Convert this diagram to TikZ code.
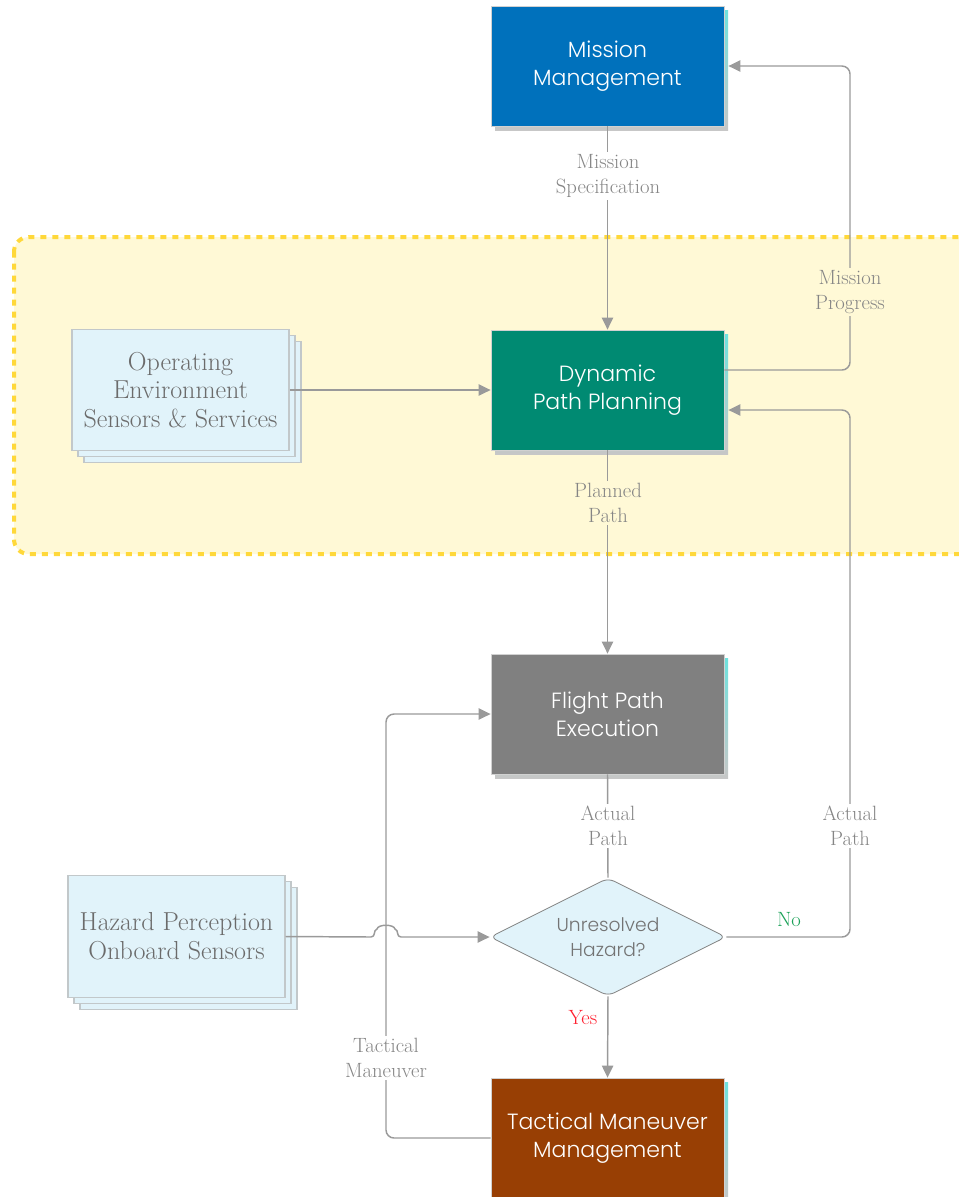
\documentclass[tikz,border=0pt]{standalone}
\usepackage{fontspec}
\IfFontExistsTF{Poppins Light}{\setsansfont{Poppins Light}}{\setsansfont{Poppins}}
\usetikzlibrary{arrows.meta,shapes.geometric,shadows,calc}

\definecolor{mmblue}{HTML}{0071BC}
\definecolor{dppgreen}{HTML}{008A72}
\definecolor{fpegray}{HTML}{808080}
\definecolor{tmmbrown}{HTML}{983F04}
\definecolor{docfill}{HTML}{E1F3FA}
\definecolor{docline}{HTML}{C2C8CA}
\definecolor{zonefill}{HTML}{FFF9D6}
\definecolor{zoneline}{HTML}{FFD83A}
\definecolor{connline}{HTML}{9A9A9A}
\definecolor{labeltext}{HTML}{858585}
\definecolor{shadowcyan}{HTML}{6EE2DE}
\definecolor{yesred}{HTML}{FF1F2F}
\definecolor{nogreen}{HTML}{1BA158}

\tikzset{
  procbox/.style={rectangle, draw=black!18, line width=0.6pt,
    minimum width=174.75pt, minimum height=90pt, inner sep=0pt,
    text=white, align=center,
    font=\sffamily\fontsize{16.5}{21}\selectfont,
    general shadow={top color=shadowcyan, bottom color=black!22,
      shadow xshift=3pt, shadow yshift=-3pt}},
  docstack/.style={rectangle, fill=docfill, draw=docline, line width=0.8pt,
    minimum width=162.75pt, minimum height=91pt, inner sep=0pt,
    align=center, text=black!58,
    font=\fontsize{19.5}{21.5}\selectfont,
    double copy shadow={shadow xshift=4.5pt, shadow yshift=-4.5pt}},
  decision/.style={diamond, aspect=2, fill=docfill, draw=black!50,
    line width=0.6pt, rounded corners=5pt, inner sep=0pt,
    minimum width=177pt, minimum height=88.5pt,
    align=center, text=black!55,
    font=\sffamily\fontsize{14}{18.5}\selectfont},
  conn/.style={draw=connline, line width=1.1pt, rounded corners=6pt},
  arr/.style={-{Triangle[length=9pt,width=8.5pt]}},
  flowlabel/.style={text=labeltext, align=center, inner sep=2pt,
    font=\fontsize{15.5}{18.5}\selectfont},
  answer/.style={inner sep=1pt, font=\fontsize{15.5}{18}\selectfont},
}

\begin{document}
\begin{tikzpicture}[x=0.75pt, y=-0.75pt]
\useasboundingbox (0,0) rectangle (958,1197);

% planning zone
\draw[fill=zonefill, draw=zoneline, line width=3pt,
  dash pattern=on 4.5pt off 4.5pt, rounded corners=11pt]
  (14,237) rectangle (990,554);

% process boxes
\node[procbox, fill=mmblue]   (mm)  at (607.5,66)   {Mission\\Management};
\node[procbox, fill=dppgreen] (dpp) at (607.5,390)  {Dynamic\\Path Planning};
\node[procbox, fill=fpegray]  (fpe) at (607.5,714)  {Flight Path\\Execution};
\node[procbox, fill=tmmbrown] (tmm) at (607.5,1138) {Tactical Maneuver\\Management};

% decision
\node[decision] (dia) at (608,937) {Unresolved\\Hazard?};

% sensor stacks
\node[docstack] (oe) at (180.5,390) {Operating\\Environment\\Sensors \& Services};
\node[docstack] (hz) at (176.5,936.5) {Hazard Perception\\Onboard Sensors};

% guide columns and ports for the return loops
\coordinate (rx) at (850,0);
\coordinate (lx) at (386,0);
\coordinate (dppout) at ([yshift=15pt]dpp.east);
\coordinate (dppin)  at ([xshift=3pt,yshift=-15pt]dpp.east);
\coordinate (mmin)   at ([xshift=3pt]mm.east);

% main flow
\draw[conn, arr] (mm.south) -- (dpp.north);
\draw[conn, arr] (dpp.south) -- (fpe.north);
\draw[conn] (fpe.south) -- (dia.north);
\draw[conn, arr] (dia.south) -- (tmm.north);
\draw[conn, arr] (oe.east) -- (dpp.west);

% feedback loops
\draw[conn, arr] (dppout) -| (rx |- mmin) -- (mmin);
\draw[conn, arr] (dia.east) -| (rx |- dppin) -- (dppin);
\draw[conn, arr] (tmm.west) -| (lx |- fpe.west) -- (fpe.west);

% hazard input, hopping over the tactical loop
\coordinate (hopc) at (lx |- dia.west);
\coordinate (hopa) at ($(hopc)+(-15,0)$);
\coordinate (hopb) at ($(hopc)+(15,0)$);
\draw[conn, arr, rounded corners=0pt] (hz.east) -- (hopa)
  .. controls ($(hopa)+(5,0)$) and ($(hopa)+(2,-7)$) .. ($(hopa)+(6,-8)$)
  .. controls ($(hopc)+(-8,-13)$) and ($(hopc)+(8,-13)$) .. ($(hopb)+(-6,-8)$)
  .. controls ($(hopb)+(-2,-7)$) and ($(hopb)+(-5,0)$) .. (hopb)
  -- (dia.west);

% connector labels
\node[flowlabel, fill=white]    (l1) at (608,176)  {Mission\\Specification};
\node[flowlabel, fill=zonefill] (l2) at (608,503)  {Planned\\Path};
\node[flowlabel, fill=zonefill] (l3) at (850,292)  {Mission\\Progress};
\node[flowlabel, fill=white]    (l4) at (608,826)  {Actual\\Path};
\node[flowlabel, fill=white]    (l5) at (850,826)  {Actual\\Path};
\node[flowlabel, fill=white]    (l6) at (386,1058) {Tactical\\Maneuver};
\node[answer, text=nogreen] (no)  at (789,920)  {No};
\node[answer, text=yesred]  (yes) at (583,1018) {Yes};
\end{tikzpicture}
\end{document}
